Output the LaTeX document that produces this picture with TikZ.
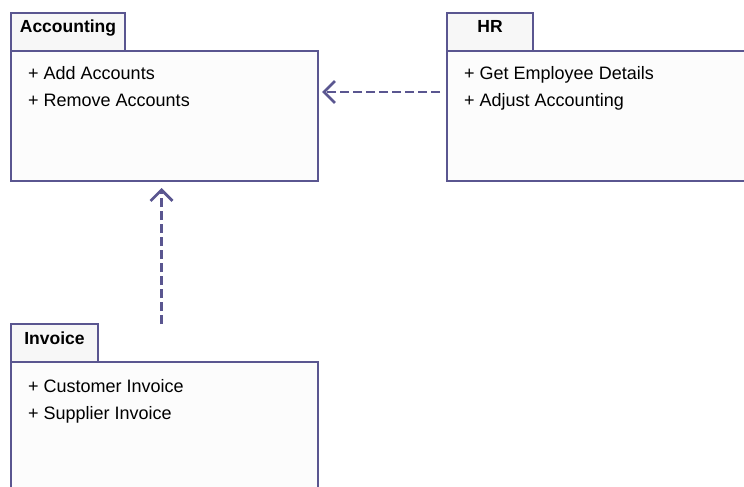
\documentclass[tikz,border=0pt]{standalone}
\usepackage{fontspec}
\setmainfont{Liberation Sans}
\usetikzlibrary{arrows.meta,positioning}
\definecolor{pkgline}{HTML}{5A5690}
\definecolor{pkgfill}{HTML}{FCFCFC}
\definecolor{tabfill}{HTML}{F7F7F7}

\begin{document}
\begin{tikzpicture}[x=1pt,y=-1pt,
  pkgbody/.style={draw=pkgline,line width=2.6pt,fill=pkgfill,outer sep=0pt,inner sep=0pt,anchor=north west},
  pkgtab/.style={draw=pkgline,line width=2.6pt,fill=tabfill,outer sep=0pt,inner sep=0pt,minimum height=38pt,anchor=south west,font=\fontsize{17.5}{20}\selectfont\bfseries,text height=7pt,text depth=5pt},
  op/.style={anchor=base west,inner sep=0pt,font=\fontsize{18}{22}\selectfont},
  dep/.style={draw=pkgline,line width=2.8pt,dash pattern=on 9pt off 4pt,-{Straight Barb[length=11pt,width=22pt]}}]
  \useasboundingbox (0,0) rectangle (744,487);
  \clip (0,0) rectangle (744,487);
  \fill[white] (0,0) rectangle (744,487);

  % Accounting package
  \node[pkgbody,minimum width=307pt,minimum height=130pt] (accbody) at (11,51) {};
  \node[pkgtab,minimum width=114pt] (acctab) at (accbody.north west) {Accounting};
  \node[op] (accadd) at ([xshift=17pt,yshift=-28pt]accbody.north west) {+ Add Accounts};
  \node[op] (accremove) at ([yshift=-27pt]accadd.base west) {+ Remove Accounts};

  % HR package
  \node[pkgbody,minimum width=320pt,minimum height=130pt] (hrbody) at (447,51) {};
  \node[pkgtab,minimum width=86pt] (hrtab) at (hrbody.north west) {HR};
  \node[op] (hrget) at ([xshift=17pt,yshift=-28pt]hrbody.north west) {+ Get Employee Details};
  \node[op] (hradjust) at ([yshift=-27pt]hrget.base west) {+ Adjust Accounting};

  % Invoice package
  \node[pkgbody,minimum width=307pt,minimum height=140pt] (invbody) at (11,362) {};
  \node[pkgtab,minimum width=87pt] (invtab) at (invbody.north west) {Invoice};
  \node[op] (invcust) at ([xshift=17pt,yshift=-30pt]invbody.north west) {+ Customer Invoice};
  \node[op] (invsupp) at ([yshift=-27pt]invcust.base west) {+ Supplier Invoice};

  % dependencies
  \draw[dep,shorten <=7pt,shorten >=4pt] ([yshift=24pt]hrbody.west) -- ([yshift=24pt]accbody.east);
  \draw[dep,shorten >=7pt] ([xshift=-3pt]accbody.south |- invtab.north) -- ([xshift=-3pt]accbody.south);
\end{tikzpicture}
\end{document}
